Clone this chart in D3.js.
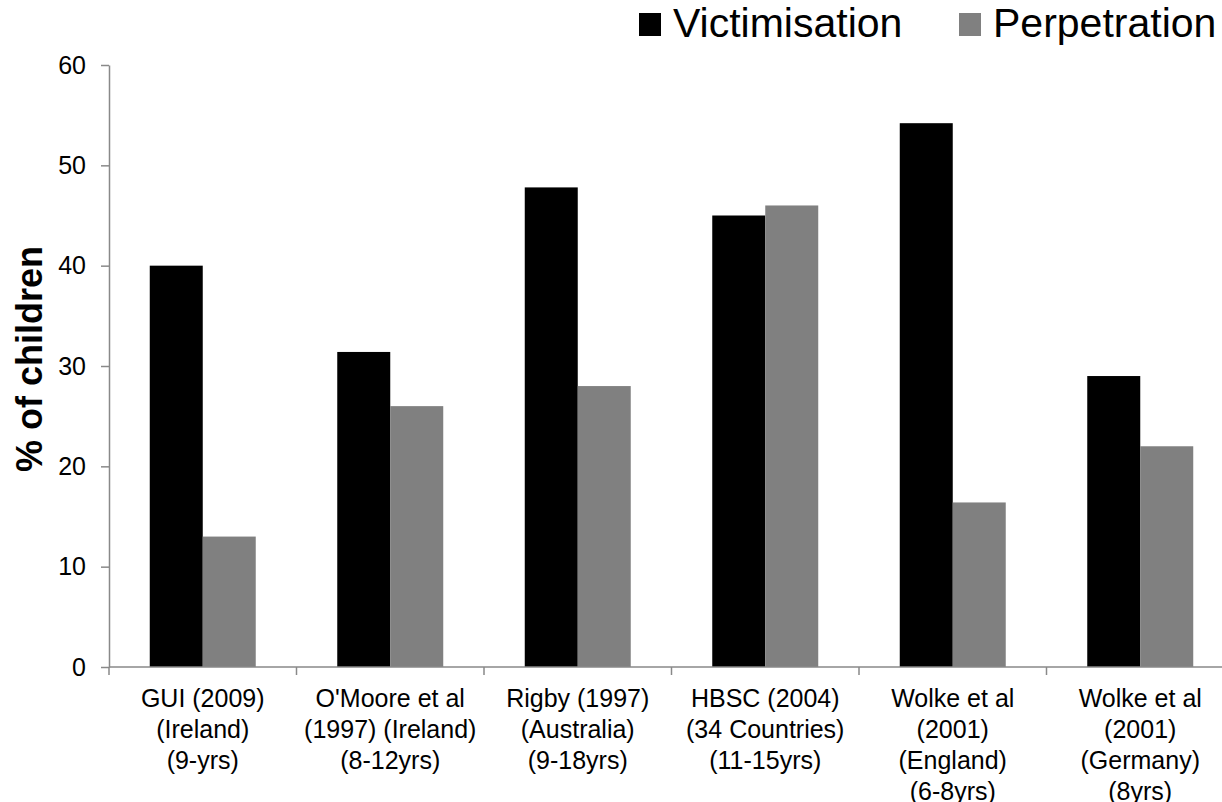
<!DOCTYPE html>
<html>
<head>
<meta charset="utf-8">
<script src="https://cdn.jsdelivr.net/npm/d3@7"></script>
<style>
  html, body { margin: 0; padding: 0; background: #fff; overflow: hidden; }
  svg { display: block; font-family: "Liberation Sans", Arial, sans-serif; }
</style>
</head>
<body>
<svg id="chart" width="1222" height="802"></svg>
<script>
// Studies compared, one label line per array entry
const categories = [
  ["GUI (2009)", "(Ireland)", "(9-yrs)"],
  ["O'Moore et al", "(1997) (Ireland)", "(8-12yrs)"],
  ["Rigby (1997)", "(Australia)", "(9-18yrs)"],
  ["HBSC (2004)", "(34 Countries)", "(11-15yrs)"],
  ["Wolke et al", "(2001)", "(England)", "(6-8yrs)"],
  ["Wolke et al", "(2001)", "(Germany)", "(8yrs)"]
];
const seriesNames = ["Victimisation", "Perpetration"];
const victimisation = [40, 31.4, 47.8, 45, 54.2, 29];
const perpetration = [13, 26, 28, 46, 16.4, 22];
const yTicks = [0, 10, 20, 30, 40, 50, 60];
const yTitle = "% of children";

const colors = ["#000000", "#808080"];

const svg = d3.select("#chart");
const plotLeft = 109, plotTop = 65, plotBottom = 667;
const bandW = 187.5;
const plotRight = plotLeft + bandW * categories.length;

const x = d3.scaleBand().domain(d3.range(categories.length)).range([plotLeft, plotRight]).paddingInner(0).paddingOuter(0);
const xs = d3.scaleBand().domain([0, 1]).range([0, x.bandwidth()]).paddingInner(0).paddingOuter(0.769);
const y = d3.scaleLinear().domain([0, 60]).range([plotBottom, plotTop]);

const axisColor = "#898989";

// Bars
const g = svg.append("g");
categories.forEach((c, i) => {
  [victimisation[i], perpetration[i]].forEach((v, s) => {
    g.append("rect")
      .attr("x", x(i) + xs(s))
      .attr("y", y(v))
      .attr("width", xs.bandwidth())
      .attr("height", y(0) - y(v))
      .attr("fill", colors[s]);
  });
});

// Y axis
const yAxis = svg.append("g")
  .attr("transform", `translate(${plotLeft},0)`)
  .call(d3.axisLeft(y).tickValues(yTicks).tickSize(8).tickSizeOuter(0).tickPadding(15));
yAxis.select(".domain").attr("stroke", axisColor).attr("stroke-width", 1.5);
yAxis.selectAll(".tick line").attr("stroke", axisColor).attr("stroke-width", 1.5);
yAxis.selectAll(".tick text").attr("font-size", 25).attr("fill", "#000")
  .attr("font-family", "Liberation Sans, Arial, sans-serif");

// X axis line with tick marks at category boundaries
const xa = svg.append("g");
xa.append("line")
  .attr("x1", plotLeft).attr("x2", plotRight)
  .attr("y1", plotBottom).attr("y2", plotBottom)
  .attr("stroke", axisColor).attr("stroke-width", 1.5);
d3.range(categories.length + 1).forEach(k => {
  const px = k < categories.length ? x(k) : plotRight;
  xa.append("line")
    .attr("x1", px).attr("x2", px)
    .attr("y1", plotBottom).attr("y2", plotBottom + 8)
    .attr("stroke", axisColor).attr("stroke-width", 1.5);
});

// Category labels
categories.forEach((lines, i) => {
  const t = svg.append("text")
    .attr("text-anchor", "middle")
    .attr("font-size", 25)
    .attr("fill", "#000");
  lines.forEach((ln, j) => {
    t.append("tspan")
      .attr("x", x(i) + x.bandwidth() / 2)
      .attr("y", 707 + j * 31)
      .text(ln);
  });
});

// Y axis title
svg.append("text")
  .attr("transform", "translate(42,359) rotate(-90)")
  .attr("text-anchor", "middle")
  .attr("font-size", 36)
  .attr("font-weight", "bold")
  .attr("fill", "#000")
  .text(yTitle);

// Legend
const legendX = [639, 959];
seriesNames.forEach((name, s) => {
  svg.append("rect")
    .attr("x", legendX[s]).attr("y", 13)
    .attr("width", 22).attr("height", 23)
    .attr("fill", colors[s]);
  svg.append("text")
    .attr("x", legendX[s] + 34)
    .attr("y", 37)
    .attr("font-size", 41)
    .attr("fill", "#000")
    .text(name);
});
</script>
</body>
</html>
